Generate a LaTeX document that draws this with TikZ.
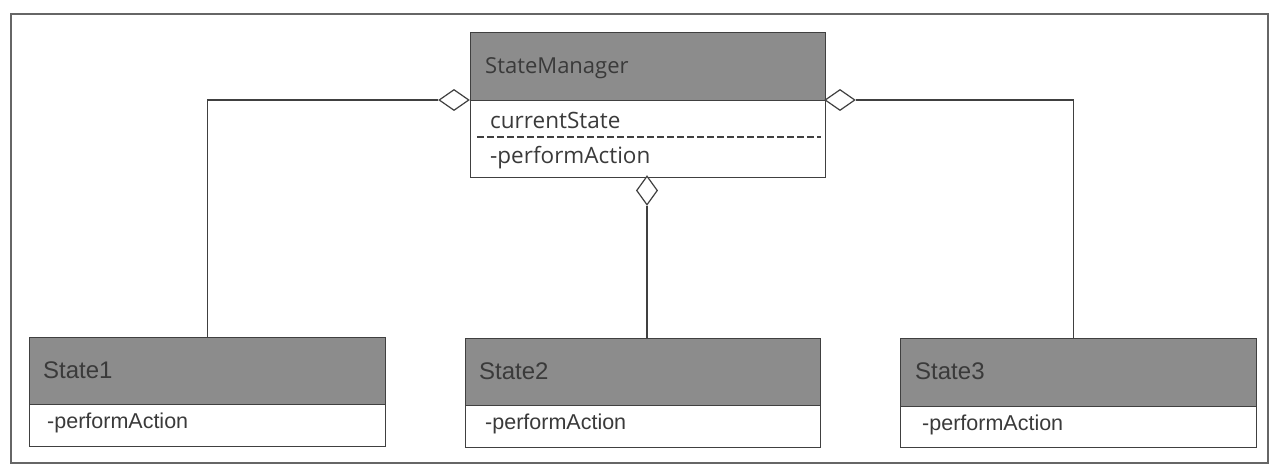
\documentclass[tikz,border=0pt]{standalone}
\usepackage{fontspec}
\setmainfont{Liberation Sans}
\newfontfamily\smfont{Open Sans}
\usetikzlibrary{shapes.geometric}
\definecolor{hdr}{HTML}{8C8C8C}
\definecolor{ink}{HTML}{3A3A3A}
\definecolor{ln}{HTML}{404040}
\tikzset{
  hbox/.style={draw=ln, line width=1.2pt, fill=hdr, anchor=north west, inner sep=0pt, minimum width=#1},
  bbox/.style={draw=ln, line width=1.2pt, fill=white, anchor=north west, inner sep=0pt, minimum width=#1},
  txt/.style={anchor=base west, inner sep=0pt, text=ink},
  agg/.style={diamond, draw=ln, line width=1.2pt, fill=white, inner sep=0pt, minimum width=#1},
  conn/.style={draw=ln, line width=1.2pt},
}
\begin{document}
\begin{tikzpicture}[x=1pt,y=-1pt]
\useasboundingbox (0,0) rectangle (1280,474);
\draw[draw=ln!80, line width=1.2pt] (11,14) rectangle (1268,463);
% StateManager
\node[hbox=355pt, minimum height=68pt] (smh) at (470,32) {};
\node[bbox=355pt, minimum height=77pt] (smb) at (470,100) {};
\draw[ln, line width=1.3pt, dash pattern=on 7pt off 3pt] ([xshift=7pt,yshift=-37pt]smb.north west) -- ([xshift=-5pt,yshift=-37pt]smb.north east);
\node[txt, font=\smfont\fontsize{22}{26}\selectfont] (smt) at (485,73) {StateManager};
\node[txt, font=\smfont\fontsize{22.5}{26}\selectfont] (cs) at (490,128) {currentState};
\node[txt, font=\smfont\fontsize{22.5}{26}\selectfont] (pa0) at (490,163) {-performAction};
% States
\node[hbox=356pt, minimum height=67pt] (s1h) at (29,337) {};
\node[bbox=356pt, minimum height=42pt] (s1b) at (29,404) {};
\node[txt, font=\fontsize{24}{28}\selectfont] (s1t) at (43,378) {State1};
\node[txt, font=\fontsize{21.5}{26}\selectfont] (pa1) at (47,428) {-performAction};
\node[hbox=355pt, minimum height=67pt] (s2h) at (465,338) {};
\node[bbox=355pt, minimum height=42pt] (s2b) at (465,405) {};
\node[txt, font=\fontsize{24}{28}\selectfont] (s2t) at (479,379) {State2};
\node[txt, font=\fontsize{21.5}{26}\selectfont] (pa2) at (485,429) {-performAction};
\node[hbox=356pt, minimum height=68pt] (s3h) at (900,338) {};
\node[bbox=356pt, minimum height=41pt] (s3b) at (900,406) {};
\node[txt, font=\fontsize{24}{28}\selectfont] (s3t) at (915,379) {State3};
\node[txt, font=\fontsize{21.5}{26}\selectfont] (pa3) at (922,430) {-performAction};
% aggregation diamonds
\node[agg=30pt, minimum height=21pt] (dl) at (454,100) {};
\node[agg=30pt, minimum height=21pt] (dr) at (840,100) {};
\node[agg=21pt, minimum height=29pt] (dm) at (647,190.5) {};
% connectors
\draw[conn] (dl.west) -| (s1h.north);
\draw[conn] (dr.east) -| ([xshift=-5pt]s3h.north);
\draw[conn] (dm.south) -- (dm.south |- s2h.north);
\end{tikzpicture}
\end{document}
